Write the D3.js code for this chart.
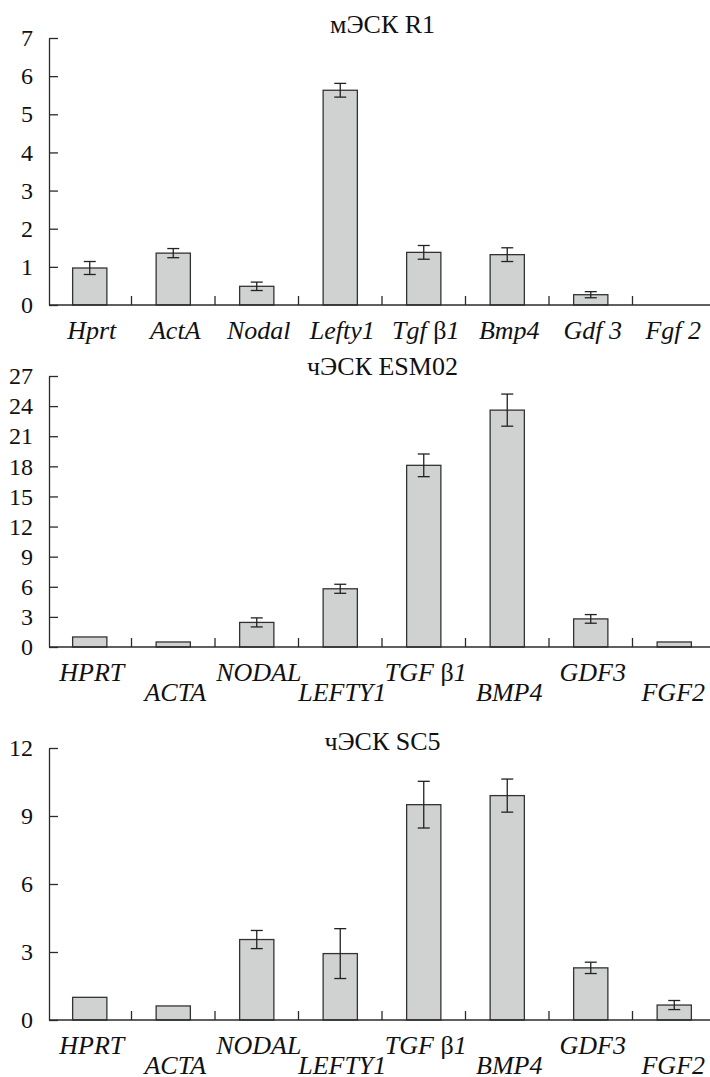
<!DOCTYPE html>
<html>
<head>
<meta charset="utf-8">
<script src="https://cdn.jsdelivr.net/npm/d3@7"></script>
<style>
  body { margin: 0; background: #fff; }
</style>
</head>
<body>
<div class="chart"></div>
<script>
// gene labels (β is set upright, the rest italic)
var mouseGenes = ["Hprt", "ActA", "Nodal", "Lefty1", "Tgf β1", "Bmp4", "Gdf 3", "Fgf 2"];
var humanGenes = ["HPRT", "ACTA", "NODAL", "LEFTY1", "TGF β1", "BMP4", "GDF3", "FGF2"];

// мЭСК R1
var r1Values = [0.97, 1.36, 0.49, 5.63, 1.38, 1.32, 0.27, 0];
var r1Errors = [0.17, 0.12, 0.11, 0.18, 0.18, 0.18, 0.08, 0];
var r1Ticks = [0, 1, 2, 3, 4, 5, 6, 7];

// чЭСК ESM02
var esmValues = [1.0, 0.5, 2.45, 5.8, 18.1, 23.6, 2.8, 0.5];
var esmErrors = [0, 0, 0.45, 0.45, 1.13, 1.6, 0.43, 0];
var esmTicks = [0, 3, 6, 9, 12, 15, 18, 21, 24, 27];

// чЭСК SC5
var sc5Values = [1.0, 0.62, 3.55, 2.93, 9.5, 9.9, 2.3, 0.66];
var sc5Errors = [0, 0, 0.4, 1.1, 1.03, 0.73, 0.25, 0.2];
var sc5Ticks = [0, 3, 6, 9, 12];

var svgWidth = 710;
var svgHeight = 1077;
var axisColor = "#2b2b2b";
var serif = "Liberation Serif";

var svg = d3.select(".chart")
  .append("svg")
  .attr("width", svgWidth)
  .attr("height", svgHeight);

var panels = [
  { title: "мЭСК R1", genes: mouseGenes, values: r1Values, errors: r1Errors, ticks: r1Ticks,
    top: 38, bottom: 305, titleY: 33, stagger: false },
  { title: "чЭСК ESM02", genes: humanGenes, values: esmValues, errors: esmErrors, ticks: esmTicks,
    top: 376, bottom: 647, titleY: 375, stagger: true },
  { title: "чЭСК SC5", genes: humanGenes, values: sc5Values, errors: sc5Errors, ticks: sc5Ticks,
    top: 748, bottom: 1020, titleY: 750, stagger: true }
];

panels.forEach(drawPanel);

function drawPanel(p) {
  var chart = svg.append("g");

  var x = d3.scaleBand()
    .domain(d3.range(p.genes.length))
    .range([48, 716]);

  var yMax = d3.max(p.ticks);
  var y = d3.scaleLinear()
    .domain([0, yMax])
    .range([p.bottom, p.top]);

  var barWidth = x.bandwidth() * 0.41;
  var axisX = 49;

  // bars
  chart.selectAll("rect.bar")
    .data(p.values)
    .enter().append("rect")
    .attr("class", "bar")
    .filter(function (d) { return d > 0; })
    .attr("x", function (d, i) { return x(i) + x.bandwidth() / 2 - barWidth / 2; })
    .attr("y", function (d) { return y(d); })
    .attr("width", barWidth)
    .attr("height", function (d) { return y(0) - y(d); })
    .attr("fill", "#d0d2d1")
    .attr("stroke", "#333")
    .attr("stroke-width", 1.3);

  // error bars
  var errG = chart.selectAll("g.err")
    .data(p.values.map(function (v, i) { return { v: v, e: p.errors[i], i: i }; })
      .filter(function (d) { return d.e > 0; }))
    .enter().append("g")
    .attr("class", "err")
    .attr("stroke", "#222")
    .attr("stroke-width", 1.3);

  errG.append("line")
    .attr("x1", function (d) { return x(d.i) + x.bandwidth() / 2; })
    .attr("x2", function (d) { return x(d.i) + x.bandwidth() / 2; })
    .attr("y1", function (d) { return y(d.v + d.e); })
    .attr("y2", function (d) { return y(d.v - d.e); });

  [1, -1].forEach(function (s) {
    errG.append("line")
      .attr("x1", function (d) { return x(d.i) + x.bandwidth() / 2 - 6; })
      .attr("x2", function (d) { return x(d.i) + x.bandwidth() / 2 + 6; })
      .attr("y1", function (d) { return y(d.v + s * d.e); })
      .attr("y2", function (d) { return y(d.v + s * d.e); });
  });

  // y axis, ticks pointing inward
  var leftAxis = d3.axisLeft(y)
    .tickValues(p.ticks)
    .tickSize(-9)
    .tickSizeOuter(0)
    .tickPadding(16)
    .tickFormat(d3.format("d"));

  var yAxisG = chart.append("g")
    .attr("transform", "translate(" + axisX + ",0)")
    .call(leftAxis)
    .attr("font-family", serif)
    .attr("font-size", 24);
  yAxisG.selectAll("path, line").attr("stroke", axisColor).attr("stroke-width", 1.3);
  yAxisG.selectAll("text")
    .style("font-family", serif)
    .attr("fill", "#111");

  // x axis line and category boundary ticks
  chart.append("line")
    .attr("x1", axisX).attr("x2", svgWidth)
    .attr("y1", y(0)).attr("y2", y(0))
    .attr("stroke", axisColor).attr("stroke-width", 1.3);

  chart.selectAll("line.xtick")
    .data(d3.range(1, p.genes.length))
    .enter().append("line")
    .attr("class", "xtick")
    .attr("x1", function (i) { return x(i); })
    .attr("x2", function (i) { return x(i); })
    .attr("y1", y(0))
    .attr("y2", y(0) - 9)
    .attr("stroke", axisColor).attr("stroke-width", 1.3);

  // gene labels, staggered in two rows for the human panels
  var labels = chart.selectAll("text.gene")
    .data(p.genes)
    .enter().append("text")
    .attr("class", "gene")
    .attr("x", function (d, i) {
      var cx = x(i) + x.bandwidth() / 2;
      return i === p.genes.length - 1 ? cx - 1 : cx + 2;
    })
    .attr("y", function (d, i) {
      if (p.stagger && i % 2 === 1) return y(0) + 54;
      return y(0) + 34;
    })
    .attr("text-anchor", "middle")
    .attr("fill", "#111")
    .style("font-family", serif)
    .style("font-size", "26px");

  labels.each(function (d) {
    var t = d3.select(this);
    d.split(/(β)/).forEach(function (part) {
      if (!part) return;
      t.append("tspan")
        .style("font-family", serif)
        .style("font-style", part === "β" ? "normal" : "italic")
        .text(part);
    });
  });

  // panel title
  chart.append("text")
    .attr("x", (axisX + 716) / 2)
    .attr("y", p.titleY)
    .attr("text-anchor", "middle")
    .attr("fill", "#111")
    .style("font-family", serif)
    .style("font-size", "26px")
    .text(p.title);
}
</script>
</body>
</html>
